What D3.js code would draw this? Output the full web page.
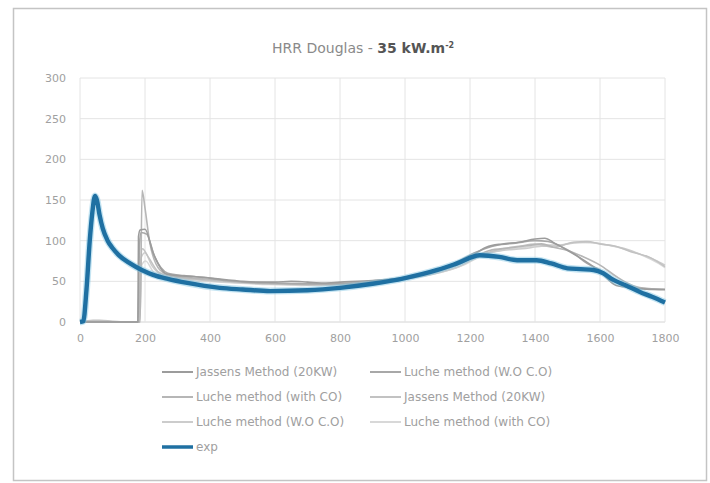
<!DOCTYPE html>
<html><head><meta charset="utf-8">
<script src="https://cdn.jsdelivr.net/npm/d3@7"></script>
<style>
html,body{margin:0;padding:0;background:#fff;}
svg{display:block;font-family:"DejaVu Sans",sans-serif;}
</style></head>
<body>
<svg id="c" width="710" height="483"></svg>
<script>
const xTicks = [0,200,400,600,800,1000,1200,1400,1600,1800];
const yTicks = [0,50,100,150,200,250,300];

const legendNames = ["Jassens Method (20KW)","Luche method (W.O C.O)","Luche method (with CO)","Jassens Method (20KW)","Luche method (W.O C.O)","Luche method (with CO)","exp"];

const s1x = [0,178,180,185,200,225,266,300,350,400,450,500,550,600,650,700,750,800,900,1000,1100,1200,1250,1300,1350,1400,1430,1460,1500,1550,1600,1650,1700,1750,1800];
const s1y = [0,0,105,113,114,85,59,57,56,54,52,50,49,49,50,49,48,49,51,55,65,80,92,96,98,102,103,97,88,76,62,45,42,40,40];

const s2x = [0,179,183,188,205,230,270,320,380,450,520,600,680,760,850,950,1050,1150,1220,1280,1340,1400,1440,1480,1520,1560,1600,1640,1680,1730,1800];
const s2y = [0,0,95,110,108,80,60,57,55,51,49,48,47,47,48,52,58,72,86,94,97,100,99,93,84,72,64,52,44,41,40];

const s3x = [0,185,191,200,215,246,280,350,420,500,600,700,800,900,1000,1100,1200,1260,1320,1380,1420,1456,1500,1550,1600,1650,1700,1750,1800];
const s3y = [0,0,162,140,97,64,57,54,52,49,47,46,46,49,54,64,78,88,91,94,96,92,88,80,70,56,45,41,40];

const s4x = [0,40,60,100,150,182,186,192,210,240,280,350,450,550,650,750,850,950,1050,1150,1230,1300,1350,1400,1456,1518,1560,1600,1650,1697,1750,1800];
const s4y = [0,2,2,1,0,0,60,90,80,62,56,53,50,48,47,47,48,52,58,68,82,90,93,96,92,98,99,96,93,86,80,68];

const s5x = [0,183,189,200,220,250,290,360,460,560,660,760,860,960,1060,1160,1240,1300,1360,1420,1470,1520,1570,1620,1670,1720,1770,1800];
const s5y = [0,0,80,85,70,58,54,52,49,47,46,46,48,51,57,67,83,88,90,93,94,97,98,95,91,84,76,70];

const s6x = [0,184,190,202,225,260,300,380,480,580,680,780,880,980,1080,1180,1250,1310,1370,1430,1480,1530,1580,1630,1680,1730,1780,1800];
const s6y = [0,0,70,75,62,55,52,50,48,46,45,46,48,52,58,70,84,89,92,95,95,98,97,94,89,82,72,67];

const expX = [0,10,20,30,38,46,52,60,70,85,100,120,154,190,225,270,330,430,500,585,700,800,900,1000,1100,1160,1230,1290,1345,1405,1450,1500,1540,1580,1610,1640,1680,1723,1760,1800];
const expY = [0,1,40,100,135,155,150,132,115,100,91,82,72,64,58,53,48,42,40,38,39,42,47,54,64,72,82,80,76,76,72,66,65,64,60,52,45,37,31,24];

const seriesX = [s1x,s2x,s3x,s4x,s5x,s6x,expX];
const seriesY = [s1y,s2y,s3y,s4y,s5y,s6y,expY];
const colors = ["#9c9c9c","#a8a8a8","#b6b6b6","#c2c2c2","#cccccc","#d8d8d8","#1f70a2"];
const widths = [1.6,1.6,1.6,1.5,1.5,1.5,4.4];

const svg = d3.select("#c");
svg.append("rect").attr("x",13.5).attr("y",8.5).attr("width",693).attr("height",472)
  .attr("fill","#fff").attr("stroke","#c4c4c4").attr("stroke-width",1.5);

const x = d3.scaleLinear().domain([0,1800]).range([80,665]);
const y = d3.scaleLinear().domain([0,300]).range([322,78]);

// grid
const g = svg.append("g");
g.selectAll("line.h").data(yTicks).join("line")
  .attr("x1",80).attr("x2",665).attr("y1",d=>y(d)).attr("y2",d=>y(d))
  .attr("stroke",d=>d===0?"#d4d4d4":"#e4e4e4").attr("stroke-width",1);
g.selectAll("line.v").data(xTicks).join("line")
  .attr("x1",d=>x(d)).attr("x2",d=>x(d)).attr("y1",y(0)).attr("y2",y(300))
  .attr("stroke","#e4e4e4").attr("stroke-width",1);

// axes labels via d3 axes
const yAxis = svg.append("g").attr("transform","translate(80,0)")
  .call(d3.axisLeft(y).tickValues(yTicks).tickFormat(d3.format("d")).tickSize(0).tickPadding(14));
const xAxis = svg.append("g").attr("transform","translate(0,322)")
  .call(d3.axisBottom(x).tickValues(xTicks).tickFormat(d3.format("d")).tickSize(0).tickPadding(12));
[yAxis,xAxis].forEach(a=>{
  a.select(".domain").remove();
  a.selectAll("text").attr("fill","#a0a0a0").style("font-size","11px").style("font-family","'DejaVu Sans',sans-serif");
});

// lines
const line = d3.line().x(d=>x(d[0])).y(d=>y(d[1])).curve(d3.curveMonotoneX);
const order = [5,4,3,2,1,0,6];
order.forEach(i=>{
  const pts = seriesX[i].map((v,k)=>[v,seriesY[i][k]]);
  if(i===6){
    svg.append("path").attr("d",line(pts)).attr("fill","none")
      .attr("stroke","#7cc3e3").attr("stroke-width",7).attr("stroke-opacity",0.45)
      .attr("stroke-linejoin","round");
  }
  svg.append("path").attr("d",line(pts)).attr("fill","none")
    .attr("stroke",colors[i]).attr("stroke-width",widths[i]).attr("stroke-linejoin","round");
});

// title
const t = svg.append("text").attr("x",363).attr("y",53).attr("text-anchor","middle")
  .style("font-size","14px").attr("fill","#8a8a8a");
t.append("tspan").text("HRR Douglas - ");
t.append("tspan").text("35 kW.m").attr("font-weight","bold").attr("fill","#555");
t.append("tspan").text("-2").attr("font-weight","bold").attr("fill","#555").attr("dy",-5).style("font-size","8px");

// legend
const legPos = [[162,372],[370,372],[162,397],[370,397],[162,422],[370,422],[162,447]];
legendNames.forEach((n,i)=>{
  const [lx,ly] = legPos[i];
  svg.append("line").attr("x1",lx).attr("x2",lx+31).attr("y1",ly).attr("y2",ly)
    .attr("stroke",colors[i]).attr("stroke-width",i===6?3.5:2);
  svg.append("text").attr("x",lx+34).attr("y",ly+4).text(n)
    .style("font-size","12px").attr("fill","#a0a0a0");
});
</script>
</body></html>
